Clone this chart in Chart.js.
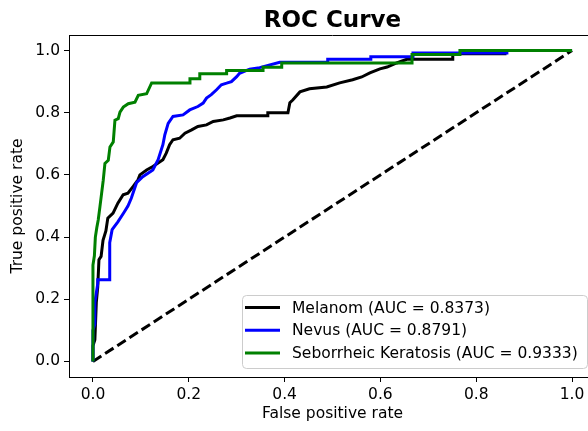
<!DOCTYPE html>
<html>
<head>
<meta charset="utf-8">
<script src="https://cdn.jsdelivr.net/npm/chart.js@4.4.0/dist/chart.umd.min.js"></script>
<style>
  html, body { margin: 0; padding: 0; background: #fff; overflow: hidden; width: 588px; height: 431px; }
  canvas { display: block; }
</style>
</head>
<body>
<canvas id="chart" width="600" height="431"></canvas>
<script>
// values
const melanomFpr = [0, 0, 0.004, 0.007, 0.010, 0.0125, 0.017, 0.021, 0.027, 0.031, 0.042, 0.052, 0.063, 0.073, 0.084, 0.094, 0.098, 0.112, 0.125, 0.136, 0.146, 0.153, 0.160, 0.167, 0.181, 0.192, 0.206, 0.219, 0.237, 0.251, 0.272, 0.286, 0.300, 0.365, 0.365, 0.407, 0.411, 0.417, 0.432, 0.452, 0.488, 0.515, 0.542, 0.561, 0.578, 0.599, 0.614, 0.634, 0.655, 0.751, 0.751, 0.860, 0.860, 1.0];
const melanomTpr = [0, 0.05, 0.07, 0.19, 0.24, 0.327, 0.338, 0.39, 0.42, 0.461, 0.477, 0.509, 0.536, 0.541, 0.563, 0.584, 0.60, 0.616, 0.627, 0.638, 0.649, 0.67, 0.697, 0.713, 0.718, 0.734, 0.745, 0.756, 0.761, 0.772, 0.777, 0.783, 0.79, 0.79, 0.80, 0.80, 0.832, 0.841, 0.867, 0.877, 0.883, 0.896, 0.906, 0.915, 0.928, 0.941, 0.947, 0.96, 0.972, 0.972, 0.99, 0.99, 1.0, 1.0];

const nevusFpr = [0, 0, 0.004, 0.004, 0.010, 0.010, 0.035, 0.035, 0.040, 0.052, 0.065, 0.073, 0.080, 0.091, 0.104, 0.125, 0.136, 0.146, 0.150, 0.157, 0.167, 0.188, 0.202, 0.219, 0.230, 0.237, 0.247, 0.258, 0.268, 0.279, 0.289, 0.300, 0.306, 0.327, 0.348, 0.390, 0.490, 0.490, 0.580, 0.580, 0.668, 0.668, 0.864, 0.864, 1.0];
const nevusTpr = [0, 0.10, 0.12, 0.19, 0.25, 0.263, 0.263, 0.382, 0.424, 0.449, 0.48, 0.50, 0.525, 0.575, 0.594, 0.616, 0.649, 0.697, 0.729, 0.766, 0.788, 0.793, 0.809, 0.82, 0.831, 0.847, 0.858, 0.874, 0.89, 0.895, 0.90, 0.916, 0.927, 0.94, 0.945, 0.962, 0.962, 0.972, 0.972, 0.98, 0.98, 0.992, 0.992, 1.0, 1.0];

const keratosisFpr = [0, 0, 0.003, 0.005, 0.008, 0.011, 0.0146, 0.018, 0.0215, 0.025, 0.032, 0.0355, 0.0424, 0.0459, 0.0528, 0.0564, 0.0633, 0.0737, 0.0877, 0.0946, 0.112, 0.1225, 0.2025, 0.2025, 0.223, 0.223, 0.279, 0.279, 0.355, 0.355, 0.394, 0.394, 0.666, 0.666, 0.766, 0.766, 1.0];
const keratosisTpr = [0, 0.31, 0.34, 0.40, 0.43, 0.455, 0.498, 0.54, 0.583, 0.637, 0.647, 0.69, 0.706, 0.776, 0.781, 0.802, 0.818, 0.829, 0.834, 0.856, 0.861, 0.896, 0.896, 0.909, 0.909, 0.925, 0.925, 0.936, 0.936, 0.946, 0.946, 0.96, 0.96, 0.987, 0.987, 1.0, 1.0];

const chanceFpr = [0, 1];
const chanceTpr = [0, 1];

const seriesNames = ["Melanom (AUC = 0.8373)", "Nevus (AUC = 0.8791)", "Seborrheic Keratosis (AUC = 0.9333)"];
const seriesColors = ["#000000", "#0000ff", "#008000"];

const tickValues = [0, 0.2, 0.4, 0.6, 0.8, 1.0];
const tickLabels = ["0.0", "0.2", "0.4", "0.6", "0.8", "1.0"];

const toPoints = (xs, ys) => xs.map((x, i) => ({ x: x, y: ys[i] }));

const FONT = "'DejaVu Sans', sans-serif";
const TEXT_SIZE = 15.5;

// title, top/right spines and the legend box drawn on top
const extras = {
  id: "extras",
  afterDraw(chart) {
    const { ctx, chartArea: a } = chart;
    ctx.save();
    ctx.strokeStyle = "#000";
    ctx.lineWidth = 1;
    ctx.beginPath();
    ctx.moveTo(a.left, a.top + 0.5);
    ctx.lineTo(a.right, a.top + 0.5);
    ctx.lineTo(a.right, a.bottom);
    ctx.stroke();

    ctx.fillStyle = "#000";
    ctx.font = "bold 23px " + FONT;
    ctx.textAlign = "center";
    ctx.textBaseline = "alphabetic";
    ctx.fillText("ROC Curve", (a.left + a.right) / 2, 26.5);

    // legend
    const bx = 242, by = 295, bw = 345, bh = 73, r = 4;
    ctx.beginPath();
    ctx.roundRect(bx + 0.5, by + 0.5, bw, bh, r);
    ctx.fillStyle = "rgba(255,255,255,0.8)";
    ctx.fill();
    ctx.strokeStyle = "#cccccc";
    ctx.stroke();
    ctx.font = TEXT_SIZE + "px " + FONT;
    ctx.textAlign = "left";
    ctx.textBaseline = "middle";
    seriesNames.forEach((name, i) => {
      const y = 307.5 + i * 22.7;
      ctx.strokeStyle = seriesColors[i];
      ctx.lineWidth = 3;
      ctx.beginPath();
      ctx.moveTo(245, y);
      ctx.lineTo(280, y);
      ctx.stroke();
      ctx.fillStyle = "#000";
      ctx.fillText(name, 292, y + 1);
    });
    ctx.restore();
  }
};

const axisCommon = {
  type: "linear",
  min: -0.05,
  max: 1.05,
  afterBuildTicks: (s) => { s.ticks = tickValues.map(v => ({ value: v })); },
  ticks: {
    callback: (v, i) => tickLabels[i],
    color: "#000",
    font: { family: FONT, size: TEXT_SIZE },
    padding: 4,
    autoSkip: false,
    maxRotation: 0
  },
  grid: { drawOnChartArea: false, drawTicks: true, tickLength: 5, color: "#000", lineWidth: 1 },
  border: { display: true, color: "#000", width: 1 }
};

new Chart(document.getElementById("chart").getContext("2d"), {
  type: "scatter",
  data: {
    datasets: [
      { label: seriesNames[2], data: toPoints(keratosisFpr, keratosisTpr), borderColor: seriesColors[2], order: 0 },
      { label: seriesNames[1], data: toPoints(nevusFpr, nevusTpr), borderColor: seriesColors[1], order: 1 },
      { label: seriesNames[0], data: toPoints(melanomFpr, melanomTpr), borderColor: seriesColors[0], order: 2 },
      { label: "chance", data: toPoints(chanceFpr, chanceTpr), borderColor: "#000", borderDash: [10, 4.5], order: 3 }
    ].map(d => Object.assign({ showLine: true, pointRadius: 0, borderWidth: 3, fill: false, tension: 0 }, d))
  },
  options: {
    responsive: false,
    animation: false,
    devicePixelRatio: 1,
    layout: { padding: { top: 35, right: 4, left: 0, bottom: 0 } },
    plugins: { legend: { display: false }, tooltip: { enabled: false } },
    scales: {
      x: Object.assign({}, axisCommon, {
        position: "bottom",
        afterFit: (s) => { s.height = 54; },
        title: { display: true, text: "False positive rate", color: "#000", font: { family: FONT, size: TEXT_SIZE }, padding: { top: 0, bottom: 8 } }
      }),
      y: Object.assign({}, axisCommon, {
        position: "left",
        afterFit: (s) => { s.width = 69; },
        title: { display: true, text: "True positive rate", color: "#000", font: { family: FONT, size: TEXT_SIZE }, padding: { top: 9, bottom: 0 } }
      })
    }
  },
  plugins: [extras]
});
</script>
</body>
</html>
